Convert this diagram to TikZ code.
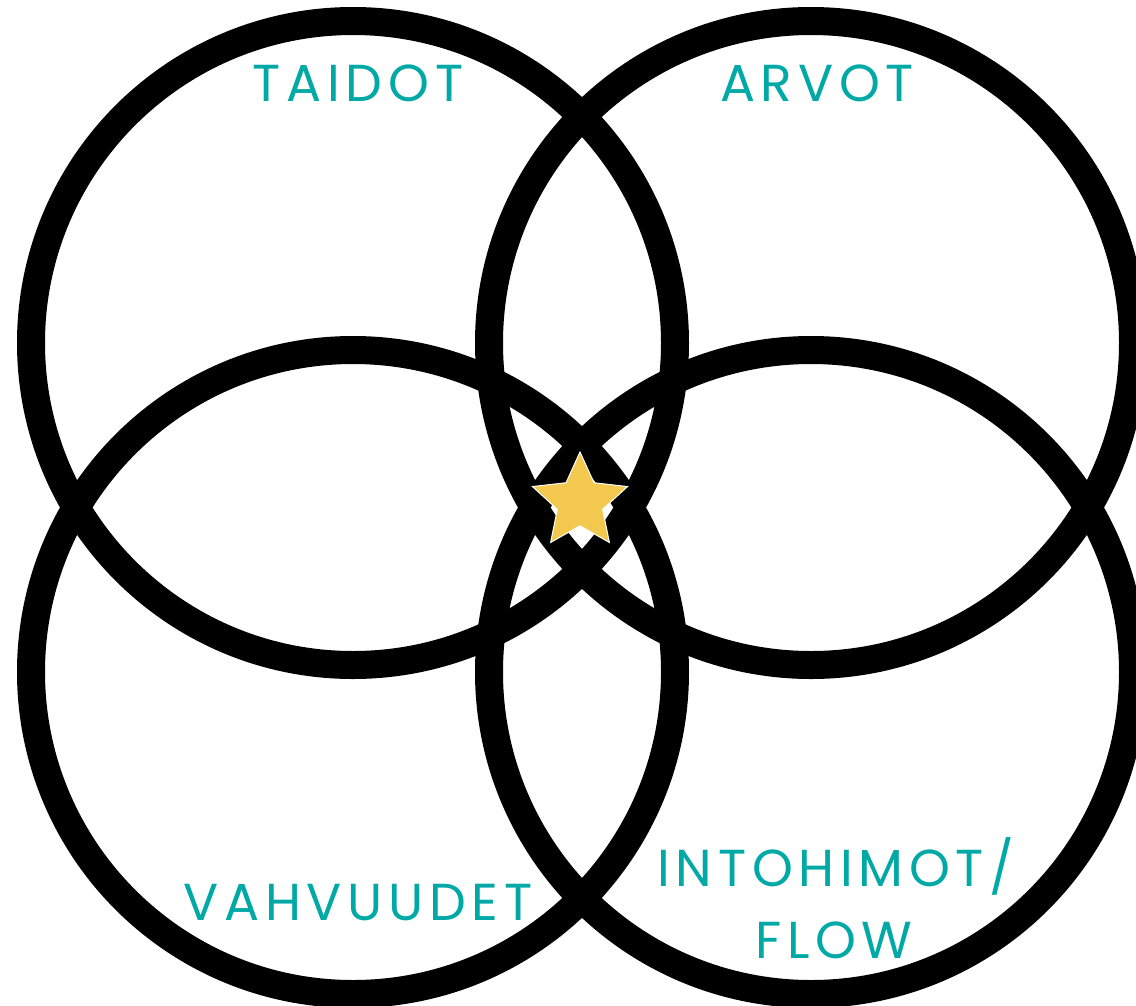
\documentclass[tikz,border=0pt]{standalone}
\usepackage{fontspec}
\setmainfont{Poppins}[LetterSpace=11]
\usetikzlibrary{shapes.geometric}
\definecolor{teal1}{HTML}{00A9A5}
\definecolor{staryellow}{HTML}{F2C84E}
\begin{document}
\begin{tikzpicture}[x=1pt,y=-1pt,
  ring/.style={draw=black,line width=28pt},
  lbl/.style={text=teal1,font=\fontsize{52}{60}\selectfont,anchor=base,inner sep=0pt}]
\useasboundingbox (0,0) rectangle (1136,1005);
\clip (0,0) rectangle (1136,1005);
\fill[white] (0,0) rectangle (1136,1005);
\coordinate (c1) at (353,343);
\coordinate (c2) at (811,343);
\coordinate (c3) at (353,672);
\coordinate (c4) at (811,672);
\draw[ring] (c1) circle[radius=322];
\draw[ring] (c2) circle[radius=322];
\draw[ring] (c3) circle[radius=322];
\draw[ring] (c4) circle[radius=322];
\node[star,star points=5,star point ratio=2.1,minimum size=100pt,inner sep=0pt,fill=staryellow,draw=white,line width=1pt] (star) at (580,502) {};
\node[lbl] (taidot) at (358,101) {TAIDOT};
\node[lbl] (arvot) at (817,101) {ARVOT};
\node[lbl] (vahv) at (358,920) {VAHVUUDET};
\node[lbl] (into) at (836,886) {INTOHIMOT/};
\node[lbl] (flow) at (834,958) {FLOW};
\end{tikzpicture}
\end{document}
